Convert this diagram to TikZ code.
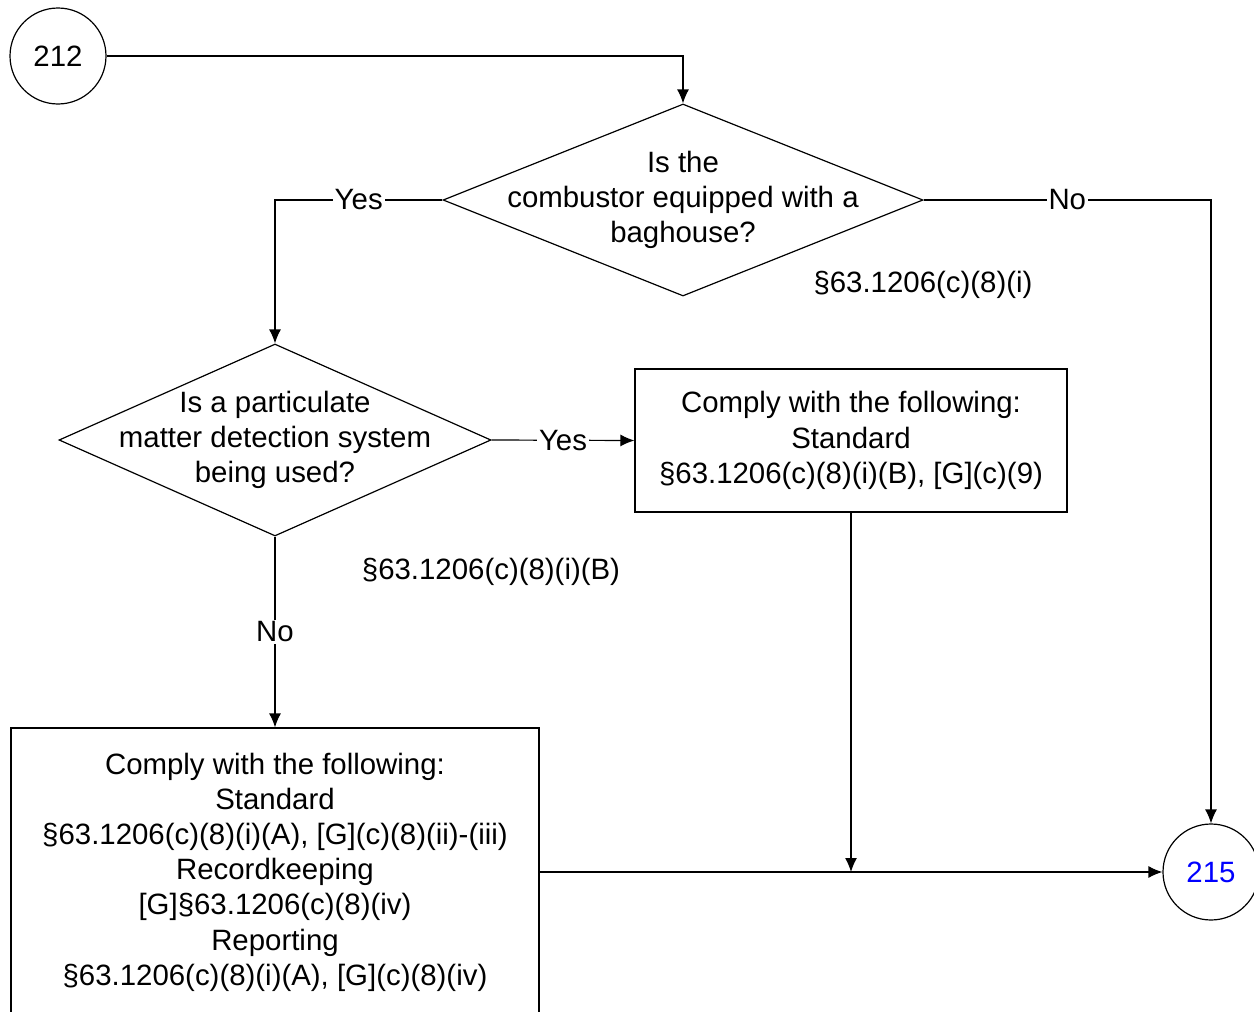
\documentclass[tikz,border=0pt]{standalone}
\usepackage{fontspec}
\setmainfont{Liberation Sans}
\usetikzlibrary{shapes.geometric}
\usetikzlibrary{arrows.meta}
\usetikzlibrary{positioning}

\tikzset{
  every node/.style={font=\fontsize{14.7}{17.6}\selectfont},
  flow/.style={line width=0.6pt},
  terminal/.style={draw, circle, line width=0.6pt, minimum size=48pt, inner sep=0pt},
  decision/.style={draw, diamond, line width=0.6pt, inner sep=0pt},
  action/.style={draw, rectangle, line width=0.6pt, inner sep=0pt, align=center},
  answer/.style={fill=white, inner sep=1pt},
  cite/.style={inner sep=0pt}
}

\begin{document}
\begin{tikzpicture}[x=0.5pt, y=-0.5pt, >={Latex[length=7pt, width=6pt]}]
  \clip (0,0) rectangle (1254,1012);

  \node[terminal] (c212) at (58,56) {212};
  \node[terminal, text=blue] (c215) at (1211,872) {215};

  \node[decision, minimum width=240pt, minimum height=96pt] (q1) at (683,200) {};
  \node[align=center] (q1text) at (q1) {Is the\\combustor equipped with a\\baghouse?};
  \node[cite] (q1cite) at (923,285) {§63.1206(c)(8)(i)};

  \node[decision, minimum width=216pt, minimum height=96pt] (q2) at (275,440) {};
  \node[align=center] (q2text) at (q2) {Is a particulate\\matter detection system\\being used?};
  \node[cite] (q2cite) at (491,572) {§63.1206(c)(8)(i)(B)};

  \node[action, minimum width=216pt, minimum height=71.5pt] (box1) at (851,440.5)
    {Comply with the following:\\Standard\\§63.1206(c)(8)(i)(B), [G](c)(9)};
  \node[action, minimum width=264pt, minimum height=144pt] (box2) at (275,872)
    {Comply with the following:\\Standard\\§63.1206(c)(8)(i)(A), [G](c)(8)(ii)-(iii)\\
     Recordkeeping\\{}[G]§63.1206(c)(8)(iv)\\Reporting\\§63.1206(c)(8)(i)(A), [G](c)(8)(iv)};

  \coordinate (join) at (box1.south |- c215.west);

  \draw[flow,->] (c212.east) -| (q1.north);
  \draw[flow,->] (q1.west) -| node[answer, pos=0.25] {Yes} (q2.north);
  \draw[flow,->] (q1.east) -| node[answer, pos=0.25] {No} (c215.north);
  \draw[flow,->] (q2.east) -- node[answer] {Yes} (box1.west);
  \draw[flow,->] (q2.south) -- node[answer] {No} (box2.north);
  \draw[flow,->] (box1.south) -- (join);
  \draw[flow,->] (box2.east) -- (c215.west);
\end{tikzpicture}
\end{document}
